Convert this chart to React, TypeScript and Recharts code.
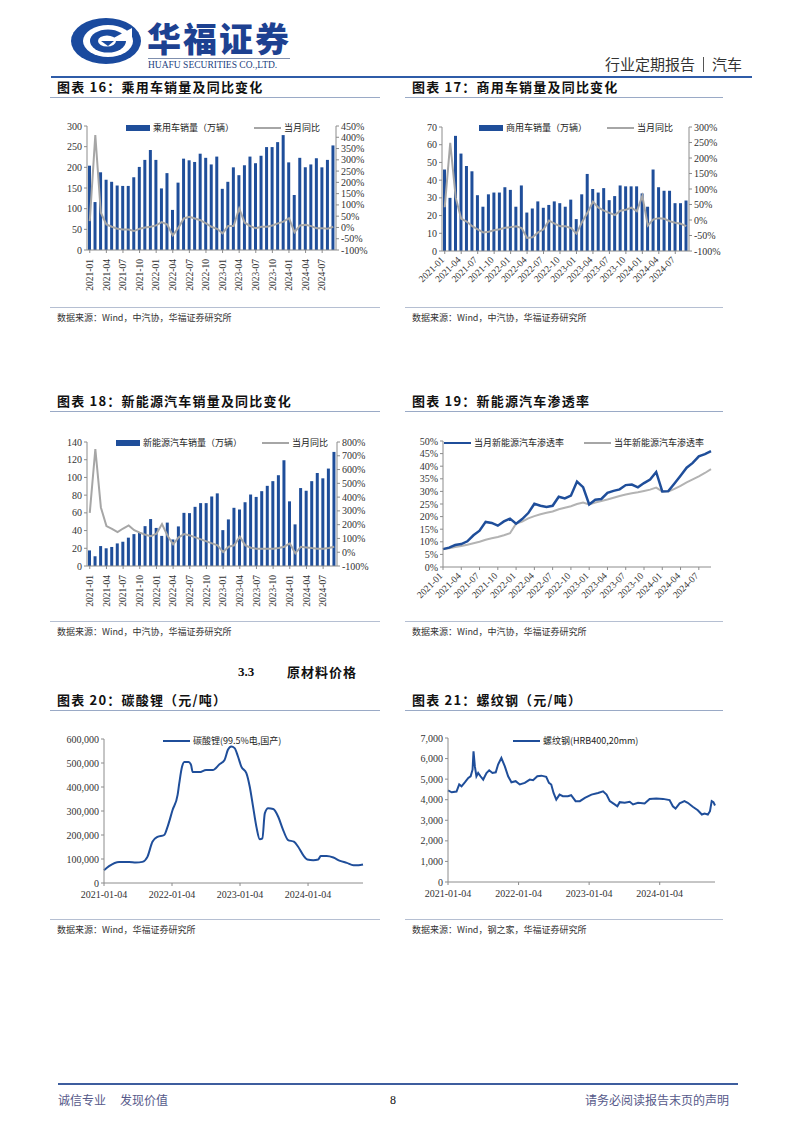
import React from "react";
import { ComposedChart, LineChart, Bar, Line, XAxis, YAxis, Legend } from "recharts";

// monthly categories, 2021-01 .. 2024-09
const months = [
  "2021-01", "2021-02", "2021-03", "2021-04", "2021-05", "2021-06", "2021-07", "2021-08", "2021-09", "2021-10", "2021-11", "2021-12",
  "2022-01", "2022-02", "2022-03", "2022-04", "2022-05", "2022-06", "2022-07", "2022-08", "2022-09", "2022-10", "2022-11", "2022-12",
  "2023-01", "2023-02", "2023-03", "2023-04", "2023-05", "2023-06", "2023-07", "2023-08", "2023-09", "2023-10", "2023-11", "2023-12",
  "2024-01", "2024-02", "2024-03", "2024-04", "2024-05", "2024-06", "2024-07", "2024-08", "2024-09",
];

// 图表16 乘用车
const passengerSales = [
  204, 116, 188, 170, 165, 156, 155, 155, 176, 201, 218, 242,
  218, 149, 186, 97, 163, 221, 217, 213, 233, 223, 207, 226,
  148, 165, 200, 181, 205, 226, 210, 228, 249, 249, 261, 278,
  212, 133, 223, 200, 207, 222, 200, 218, 253,
];
const passengerYoy = [
  28, 410, 65, 13, 3, -6, -9, -9, -16, -6, 0, 3,
  9, 24, 13, -35, -2, 40, 47, 40, 32, 18, 3, -6,
  -26, 6, 6, 84, 21, 6, -3, 3, 3, 9, 18, 26,
  41, -21, 9, 12, 6, -3, -3, -6, 3,
];

// 图表17 商用车
const commercialSales = [
  46, 30, 65, 55, 48, 45, 31.5, 25, 32, 33, 33, 36,
  34.5, 25, 37, 21.7, 24, 28, 24.4, 26, 28, 27, 25, 29,
  18, 32, 43.5, 35, 33, 35.5, 28.7, 31, 37, 36.5, 36.5, 36.5,
  32.5, 25, 46, 36, 34, 34, 27, 27, 28.5,
];
const commercialYoy = [
  41, 249, 72, 4, -5, -20, -30, -40, -38, -33, -30, -25,
  -23, -20, -26, -58, -56, -40, -30, -2, -12, -20, -20, -26,
  -44, -7, 23, 59, 40, 30, 23, 16, 30, 33, 40, 28,
  78, -18, 2, 6, 4, -4, -9, -12, -20,
];

// 图表18 新能源汽车
const nevSales = [
  17.6, 11, 22.5, 20, 21.5, 25.5, 27.4, 32, 36, 37.5, 45, 53,
  43, 34, 49, 30, 44.7, 60, 59.7, 66.8, 71, 71, 78.5, 82,
  40.5, 52.6, 65.7, 63.8, 72, 80.7, 78, 84.5, 90.5, 95.8, 102.5, 119.4,
  73, 47, 88, 85, 95.8, 105, 99, 110, 128.8,
];
const nevYoy = [
  286, 749, 325, 190, 170, 146, 172, 194, 160, 142, 127, 117,
  135, 204, 120, 57, 108, 132, 122, 108, 93, 79, 64, 50,
  1, 40, 50, 113, 50, 33, 26, 26, 26, 26, 30, 40,
  64, -8, 40, 35, 30, 26, 26, 30, 40,
];

// 图表19 渗透率 (%)
const nevMonthlyRate = [
  7.1, 7.7, 8.7, 9.1, 10.2, 12.6, 14.4, 17.9, 17.5, 16.4, 18.1, 19.2,
  17.2, 19.0, 21.4, 25.1, 24.3, 23.8, 24.3, 27.9, 27.2, 28.3, 33.9, 31.7,
  24.8, 26.7, 27.0, 29.4, 30.2, 30.8, 32.5, 32.7, 31.6, 33.3, 34.7, 37.7,
  30.0, 30.1, 33.1, 36.2, 39.4, 41.3, 43.9, 44.8, 46.0,
];
const nevYearRate = [
  7.1, 7.4, 7.9, 8.3, 8.8, 9.4, 10.0, 10.8, 11.4, 11.9, 12.6, 13.4,
  17.2, 18.0, 19.3, 20.2, 20.9, 21.5, 22.0, 22.9, 23.5, 24.1, 25.0, 25.6,
  24.8, 25.6, 26.2, 26.8, 27.5, 28.2, 28.8, 29.3, 29.7, 30.2, 30.7, 31.5,
  30.0, 30.0, 31.0, 32.2, 33.6, 34.8, 36.0, 37.3, 38.8,
];

// 图表20 碳酸锂 (元/吨)
const liDates = [
  "2021-01-04", "2021-01-31", "2021-03-26", "2021-05-19", "2021-06-24", "2021-07-29", "2021-08-25", "2021-09-21",
  "2021-10-18", "2021-11-23", "2021-12-11", "2022-01-07", "2022-02-03", "2022-02-12", "2022-02-27", "2022-03-11",
  "2022-04-03", "2022-04-16", "2022-04-25", "2022-05-31", "2022-07-06", "2022-08-11", "2022-09-16", "2022-10-13",
  "2022-10-31", "2022-11-18", "2022-12-06", "2022-12-24", "2023-01-11", "2023-02-07", "2023-02-25", "2023-03-15",
  "2023-04-02", "2023-04-20", "2023-05-04", "2023-05-17", "2023-06-04", "2023-07-01", "2023-07-28", "2023-08-20",
  "2023-09-19", "2023-10-20", "2023-11-12", "2023-12-09", "2023-12-31", "2024-02-01", "2024-02-28", "2024-03-12",
  "2024-04-13", "2024-05-19", "2024-06-24", "2024-07-30", "2024-09-04", "2024-10-01", "2024-10-25",
];
const liPrices = [
  53000, 70000, 88000, 88000, 85000, 88000, 109000, 172000, 192000, 200000,
  234000, 304000, 367000, 416000, 485000, 504000, 504000, 492000, 462000, 462000,
  471000, 471000, 495000, 513000, 555000, 569000, 562000, 527000, 485000, 458000,
  402000, 318000, 234000, 182000, 186000, 290000, 311000, 308000, 276000, 228000,
  179000, 172000, 151000, 116000, 98000, 95000, 98000, 112000, 112000, 106000,
  92000, 84000, 74000, 74000, 77000,
];

// 图表21 螺纹钢 (元/吨)
const rbDates = [
  "2021-01-04", "2021-01-23", "2021-02-17", "2021-03-03", "2021-03-15", "2021-04-02", "2021-04-19", "2021-05-01",
  "2021-05-11", "2021-05-16", "2021-05-23", "2021-05-31", "2021-06-09", "2021-06-21", "2021-07-05", "2021-07-22",
  "2021-08-05", "2021-08-22", "2021-09-08", "2021-09-20", "2021-10-07", "2021-10-25", "2021-11-11", "2021-11-28",
  "2021-12-20", "2022-01-10", "2022-02-05", "2022-03-03", "2022-03-20", "2022-04-11", "2022-05-02", "2022-05-27",
  "2022-06-10", "2022-06-22", "2022-07-04", "2022-07-18", "2022-08-04", "2022-08-21", "2022-09-16", "2022-10-03",
  "2022-10-26", "2022-11-17", "2022-12-13", "2023-01-16", "2023-02-19", "2023-03-17", "2023-04-04", "2023-04-21",
  "2023-05-16", "2023-05-30", "2023-06-11", "2023-07-07", "2023-08-02", "2023-08-19", "2023-09-14", "2023-10-18",
  "2023-11-13", "2023-12-17", "2024-01-21", "2024-02-24", "2024-03-12", "2024-03-26", "2024-04-16", "2024-05-11",
  "2024-05-28", "2024-06-23", "2024-07-19", "2024-08-09", "2024-08-23", "2024-09-09", "2024-09-20", "2024-09-29",
  "2024-10-08", "2024-10-16",
];
const rbPrices = [
  4450, 4360, 4400, 4740, 4650, 4850, 5060, 5140, 5460, 6350,
  5620, 5140, 5300, 5140, 4980, 5300, 5430, 5300, 5330, 5710,
  6030, 5620, 5140, 4850, 4900, 4740, 4820, 4980, 4950, 5140,
  5170, 5110, 4820, 4740, 4330, 4010, 4250, 4170, 4170, 4220,
  3930, 3930, 4090, 4250, 4330, 4410, 4250, 3930, 3770, 3680,
  3880, 3850, 3900, 3770, 3850, 3820, 4040, 4060, 4040, 3980,
  3680, 3570, 3820, 3930, 3850, 3660, 3490, 3280, 3330, 3280,
  3440, 3930, 3880, 3720,
];

const priceTickLabels = ["2021-01-04", "2022-01-04", "2023-01-04", "2024-01-04"];

const BLUE = "#1f4e9a";
const GREY = "#a6a6a6";
const AXIS = "#8c8c8c";
const SERIF = "'Liberation Serif', 'Times New Roman', 'Noto Sans CJK SC', serif";
const CJK = "'Noto Sans CJK SC', 'Liberation Serif', sans-serif";

const dayOf = (d: string) => Math.round((Date.parse(d) - Date.parse(priceTickLabels[0])) / 86400000);

const carData = months.map((m, i) => ({
  m,
  ps: passengerSales[i],
  py: passengerYoy[i],
  cs: commercialSales[i],
  cy: commercialYoy[i],
  ns: nevSales[i],
  ny: nevYoy[i],
  mr: nevMonthlyRate[i],
  yr: nevYearRate[i],
}));
const liData = liDates.map((d, i) => ({ d: dayOf(d), v: liPrices[i] }));
const rbData = rbDates.map((d, i) => ({ d: dayOf(d), v: rbPrices[i] }));
const yearTicks = priceTickLabels.map(dayOf);

const tickStyle = { fontSize: 10, fill: "#333", fontFamily: SERIF };
const axisProps = {
  axisLine: { stroke: AXIS },
  tickLine: { stroke: AXIS },
  tickSize: 3,
  interval: 0 as const,
};

const VTick = (props: any) => {
  const { x, y, payload } = props;
  return (
    <g transform={`translate(${x},${y})`}>
      <text transform="rotate(-90)" x={-4} dy="0.35em" textAnchor="end" fontSize={9.5} fill="#333" fontFamily={SERIF}>
        {payload.value}
      </text>
    </g>
  );
};

const SlantTick = (props: any) => {
  const { x, y, payload } = props;
  return (
    <g transform={`translate(${x},${y})`}>
      <text transform="rotate(-45)" x={-3} dy="0.35em" textAnchor="end" fontSize={9.5} fill="#333" fontFamily={SERIF}>
        {payload.value}
      </text>
    </g>
  );
};

type LegendItem = { label: string; color: string; kind: "bar" | "line" };

const legendContent = (items: LegendItem[]) => () => (
  <div style={{ display: "flex", alignItems: "center", fontSize: 9, fontFamily: CJK, color: "#222", whiteSpace: "nowrap", lineHeight: "12px" }}>
    {items.map((it, i) => (
      <div key={i} style={{ display: "flex", alignItems: "center", marginLeft: i ? 20 : 0 }}>
        <span
          style={{
            display: "inline-block",
            width: it.kind === "bar" ? 24 : 27,
            height: it.kind === "bar" ? 6 : 2.5,
            background: it.color,
            marginRight: 3,
          }}
        />
        <span>{it.label}</span>
      </div>
    ))}
  </div>
);

const legendAt = (left: number, top: number, items: LegendItem[]) => (
  <Legend
    layout="horizontal"
    verticalAlign="middle"
    align="center"
    wrapperStyle={{ left, top, width: "auto" }}
    content={legendContent(items)}
  />
);

const pct = (v: number) => `${v}%`;
const thousands = (v: number) => v.toLocaleString("en-US");

const Title = ({ x, y, w, text }: { x: number; y: number; w: number; text: string }) => (
  <>
    <div style={{ position: "absolute", left: x + 7, top: y, fontSize: 13, fontWeight: 700, letterSpacing: 1.2, lineHeight: "14px", color: "#111", fontFamily: CJK, whiteSpace: "nowrap" }}>
      {text}
    </div>
    <div style={{ position: "absolute", left: x, top: y + 17, width: w, height: 1, background: "#9aaac6" }} />
  </>
);

const Source = ({ x, y, w, text }: { x: number; y: number; w: number; text: string }) => (
  <>
    <div style={{ position: "absolute", left: x, top: y, width: w, height: 1, background: "#b5bfd2" }} />
    <div style={{ position: "absolute", left: x + 7, top: y + 5, fontSize: 9, lineHeight: "12px", color: "#333", fontFamily: CJK, whiteSpace: "nowrap" }}>
      {text}
    </div>
  </>
);

const Box = ({ left, top, children }: { left: number; top: number; children: React.ReactNode }) => (
  <div style={{ position: "absolute", left, top }}>{children}</div>
);

const SalesChart = ({
  width, top, rightWidth, barKey, lineKey, leftMax, leftStep, rightMin, rightMax, rightStep, barLabel, legendLeft, slant,
}: {
  width: number; top: number; rightWidth: number; barKey: string; lineKey: string; leftMax: number; leftStep: number;
  rightMin: number; rightMax: number; rightStep: number; barLabel: string; legendLeft: number; slant?: boolean;
}) => {
  const leftTicks: number[] = [];
  for (let v = 0; v <= leftMax; v += leftStep) leftTicks.push(v);
  const rightTicks: number[] = [];
  for (let v = rightMin; v <= rightMax; v += rightStep) rightTicks.push(v);
  const plotH = 124;
  return (
    <ComposedChart width={width} height={185} data={carData} margin={{ top, right: 0, bottom: 0, left: 0 }}>
      <XAxis
        dataKey="m"
        axisLine={{ stroke: AXIS }}
        tickLine={{ stroke: AXIS }}
        tickSize={3}
        interval={2}
        height={185 - top - plotH}
        tick={slant ? <SlantTick /> : <VTick />}
      />
      <YAxis yAxisId="left" width={37} domain={[0, leftMax]} ticks={leftTicks} tick={tickStyle} {...axisProps} />
      <YAxis yAxisId="right" orientation="right" width={rightWidth} domain={[rightMin, rightMax]} ticks={rightTicks} tickFormatter={pct} tick={tickStyle} {...axisProps} />
      {legendAt(legendLeft, 7, [
        { label: barLabel, color: BLUE, kind: "bar" },
        { label: "当月同比", color: GREY, kind: "line" },
      ])}
      <Bar yAxisId="left" dataKey={barKey} fill={BLUE} barSize={3} isAnimationActive={false} />
      <Line yAxisId="right" dataKey={lineKey} stroke={GREY} strokeWidth={2} dot={false} isAnimationActive={false} />
    </ComposedChart>
  );
};

const PriceChart = ({
  data, yWidth, right, top, max, step, label, legendLeft, curve,
}: {
  data: { d: number; v: number }[]; yWidth: number; right: number; top: number; max: number; step: number;
  label: string; legendLeft: number; curve: "monotone" | "linear";
}) => {
  const ticks: number[] = [];
  for (let v = 0; v <= max; v += step) ticks.push(v);
  return (
    <LineChart width={320} height={174} data={data} margin={{ top, right, bottom: 0, left: 0 }}>
      <XAxis
        dataKey="d"
        type="number"
        domain={[0, "dataMax"]}
        ticks={yearTicks}
        tickFormatter={(v: number) => priceTickLabels[yearTicks.indexOf(v)] ?? ""}
        height={174 - top - 144}
        tickMargin={5}
        tick={tickStyle}
        {...axisProps}
      />
      <YAxis width={yWidth} domain={[0, max]} ticks={ticks} tickFormatter={thousands} tick={tickStyle} {...axisProps} />
      {legendAt(legendLeft, 5, [{ label, color: BLUE, kind: "line" }])}
      <Line dataKey="v" type={curve} stroke={BLUE} strokeWidth={2} dot={false} isAnimationActive={false} />
    </LineChart>
  );
};

const Logo = () => (
  <svg width={76} height={50} style={{ position: "absolute", left: 68, top: 16 }} viewBox="0 0 76 50">
    <ellipse cx={38} cy={25} rx={35} ry={23} fill="#1a4a9e" />
    <ellipse cx={40} cy={25} rx={25} ry={16} fill="#fff" />
    <ellipse cx={40} cy={25} rx={18} ry={11.5} fill="#1a4a9e" />
    <path d="M40 25 L64 12 L64 25 Z" fill="#fff" />
    <ellipse cx={39} cy={25} rx={9} ry={5.5} fill="#fff" />
    <path d="M33 25 L46 25 L40 30 Z" fill="#1a4a9e" />
  </svg>
);

export default function App() {
  return (
    <div style={{ position: "absolute", left: 0, top: 0, width: 802, height: 1133, background: "#fff", overflow: "hidden", fontFamily: CJK }}>
      {/* header */}
      <Logo />
      <div style={{ position: "absolute", left: 147, top: 18, fontSize: 34, lineHeight: "40px", fontWeight: 900, letterSpacing: 2, color: "#1d4191", whiteSpace: "nowrap" }}>
        华福证券
      </div>
      <div style={{ position: "absolute", left: 148, top: 58, width: 142, height: 1, background: "#7f8fae" }} />
      <div style={{ position: "absolute", left: 148, top: 60, fontSize: 9.5, lineHeight: "11px", color: "#1d3f80", fontFamily: SERIF, whiteSpace: "nowrap" }}>
        HUAFU SECURITIES CO.,LTD.
      </div>
      <div style={{ position: "absolute", right: 60, top: 55, fontSize: 15, lineHeight: "18px", color: "#333", whiteSpace: "nowrap", display: "flex", alignItems: "center" }}>
        <span>行业定期报告</span>
        <span style={{ display: "inline-block", width: 1, height: 15, background: "#555", margin: "0 8px" }} />
        <span>汽车</span>
      </div>
      <div style={{ position: "absolute", left: 51, top: 76, width: 701, height: 2, background: "#2f5ca8" }} />

      {/* row 1 */}
      <Title x={50} y={80} w={330} text="图表 16：乘用车销量及同比变化" />
      <Title x={405} y={80} w={318} text="图表 17：商用车销量及同比变化" />
      <Box left={50} top={115}>
        <SalesChart width={330} top={11} rightWidth={44} barKey="ps" lineKey="py" leftMax={300} leftStep={50}
          rightMin={-100} rightMax={450} rightStep={50} barLabel="乘用车销量（万辆）" legendLeft={76} />
      </Box>
      <Box left={405} top={115}>
        <SalesChart width={320} top={12} rightWidth={36} barKey="cs" lineKey="cy" leftMax={70} leftStep={10}
          rightMin={-100} rightMax={300} rightStep={50} barLabel="商用车销量（万辆）" legendLeft={74} slant />
      </Box>
      <Source x={50} y={307} w={330} text="数据来源：Wind，中汽协，华福证券研究所" />
      <Source x={405} y={307} w={318} text="数据来源：Wind，中汽协，华福证券研究所" />

      {/* row 2 */}
      <Title x={50} y={394} w={330} text="图表 18：新能源汽车销量及同比变化" />
      <Title x={405} y={394} w={318} text="图表 19：新能源汽车渗透率" />
      <Box left={50} top={430}>
        <SalesChart width={330} top={12} rightWidth={43} barKey="ns" lineKey="ny" leftMax={140} leftStep={20}
          rightMin={-100} rightMax={800} rightStep={100} barLabel="新能源汽车销量（万辆）" legendLeft={66} />
      </Box>
      <Box left={405} top={430}>
        <LineChart width={320} height={185} data={carData} margin={{ top: 11, right: 14, bottom: 0, left: 0 }}>
          <XAxis dataKey="m" scale="point" padding={{ left: 0, right: 0 }} axisLine={{ stroke: AXIS }} tickLine={{ stroke: AXIS }}
            tickSize={3} interval={2} height={48} tick={<SlantTick />} />
          <YAxis width={38} domain={[0, 50]} ticks={[0, 5, 10, 15, 20, 25, 30, 35, 40, 45, 50]} tickFormatter={pct} tick={tickStyle} {...axisProps} />
          {legendAt(39, 7, [
            { label: "当月新能源汽车渗透率", color: BLUE, kind: "line" },
            { label: "当年新能源汽车渗透率", color: GREY, kind: "line" },
          ])}
          <Line dataKey="yr" stroke="#b3b3b3" strokeWidth={2} dot={false} isAnimationActive={false} />
          <Line dataKey="mr" stroke={BLUE} strokeWidth={2.5} dot={false} isAnimationActive={false} />
        </LineChart>
      </Box>
      <Source x={50} y={621} w={330} text="数据来源：Wind，中汽协，华福证券研究所" />
      <Source x={405} y={621} w={318} text="数据来源：Wind，中汽协，华福证券研究所" />

      {/* section */}
      <div style={{ position: "absolute", left: 238, top: 665, fontSize: 13, fontWeight: 700, lineHeight: "14px", color: "#111", fontFamily: SERIF }}>3.3</div>
      <div style={{ position: "absolute", left: 287, top: 665, fontSize: 13, fontWeight: 700, lineHeight: "14px", letterSpacing: 1, color: "#111" }}>原材料价格</div>

      {/* row 3 */}
      <Title x={50} y={693} w={330} text="图表 20：碳酸锂（元/吨）" />
      <Title x={405} y={693} w={318} text="图表 21：螺纹钢（元/吨）" />
      <Box left={50} top={730}>
        <PriceChart data={liData} yWidth={54} right={7} top={9} max={600000} step={100000}
          label="碳酸锂(99.5%电,国产)" legendLeft={113} curve="monotone" />
      </Box>
      <Box left={405} top={730}>
        <PriceChart data={rbData} yWidth={43} right={10} top={8} max={7000} step={1000}
          label="螺纹钢(HRB400,20mm)" legendLeft={108} curve="linear" />
      </Box>
      <Source x={50} y={919} w={330} text="数据来源：Wind，华福证券研究所" />
      <Source x={405} y={919} w={318} text="数据来源：Wind，钢之家，华福证券研究所" />

      {/* footer */}
      <div style={{ position: "absolute", left: 58, top: 1083, width: 680, height: 1.5, background: "#3d5d9e" }} />
      <div style={{ position: "absolute", left: 58, top: 1093, fontSize: 12, lineHeight: "14px", color: "#56598a", whiteSpace: "nowrap", display: "flex" }}>
        <span>诚信专业</span>
        <span style={{ marginLeft: 14 }}>发现价值</span>
      </div>
      <div style={{ position: "absolute", left: 390, top: 1093, fontSize: 12, lineHeight: "14px", color: "#111", fontFamily: SERIF }}>8</div>
      <div style={{ position: "absolute", right: 73, top: 1093, fontSize: 12, lineHeight: "14px", color: "#56598a", whiteSpace: "nowrap" }}>请务必阅读报告末页的声明</div>
    </div>
  );
}
